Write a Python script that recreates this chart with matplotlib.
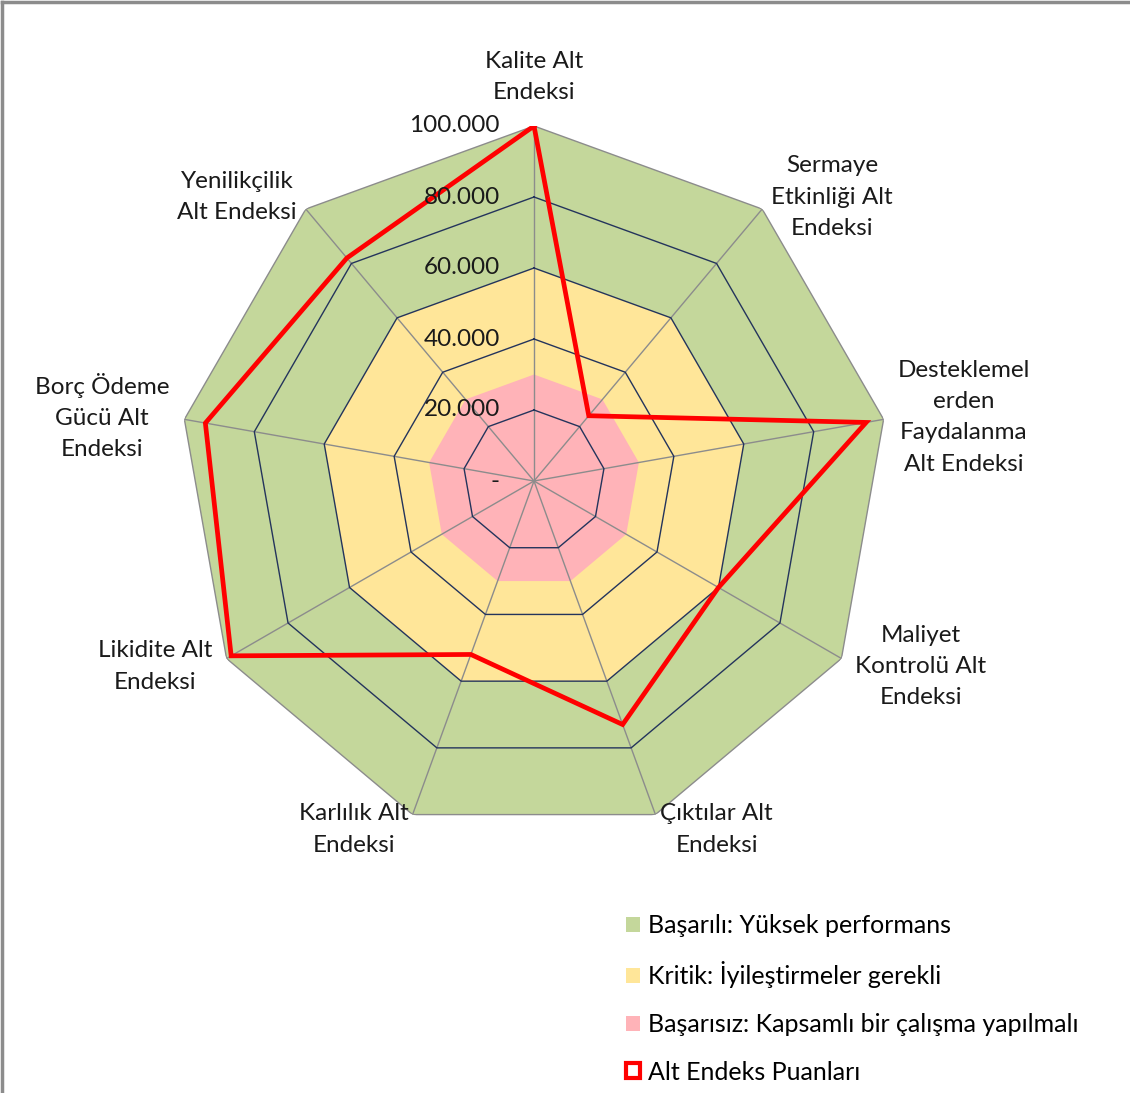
import numpy as np
import matplotlib.pyplot as plt
from matplotlib.patches import Patch
from matplotlib.lines import Line2D

plt.rcParams['font.family'] = ['Lato', 'DejaVu Sans']

categories = ["Kalite Alt\nEndeksi", "Sermaye\nEtkinliği Alt\nEndeksi",
              "Desteklemel\nerden\nFaydalanma\nAlt Endeksi",
              "Maliyet\nKontrolü Alt\nEndeksi", "Çıktılar Alt\nEndeksi",
              "Karlılık Alt\nEndeksi", "Likidite Alt\nEndeksi",
              "Borç Ödeme\nGücü Alt\nEndeksi", "Yenilikçilik\nAlt Endeksi"]
scores = [100, 24, 95, 60, 73, 52, 98.5, 94, 82]

# performance bands (upper limit of each zone)
band_names = ["Başarılı: Yüksek performans", "Kritik: İyileştirmeler gerekli",
              "Başarısız: Kapsamlı bir çalışma yapılmalı"]
band_limits = [100, 60, 30]
band_colors = ["#c4d79b", "#ffe699", "#ffb3b8"]
series_name = "Alt Endeks Puanları"

ticks = [0, 20, 40, 60, 80, 100]
tick_labels = ["-", "20.000", "40.000", "60.000", "80.000", "100.000"]

W, H = 1130, 1093
fig = plt.figure(figsize=(W / 100, H / 100), dpi=100)
cx, cy, R = 534, 481, 355
ax = fig.add_axes([(cx - R) / W, (H - cy - R) / H, 2 * R / W, 2 * R / H],
                  projection='polar')
ax.set_theta_zero_location('N')
ax.set_theta_direction(-1)
ax.set_ylim(0, 100)
ax.grid(False)
ax.set_xticks([])
ax.set_yticks([])
ax.spines['polar'].set_visible(False)
ax.patch.set_alpha(0)

n = len(categories)
theta = np.linspace(0, 2 * np.pi, n, endpoint=False)
closed = np.append(theta, theta[0])

for lim, col in zip(band_limits, band_colors):
    ax.fill(closed, [lim] * (n + 1), color=col, lw=0, zorder=1)

# spokes and outer edge
for t in theta:
    ax.plot([t, t], [0, 100], color='#8c8c8c', lw=1, zorder=2)
ax.plot(closed, [100] * (n + 1), color='#8c8c8c', lw=1, zorder=2)
for v in ticks[1:-1]:
    ax.plot(closed, [v] * (n + 1), color='#24345c', lw=1, zorder=3)

ax.plot(closed, scores + scores[:1], color='#ff0000', lw=3.4, zorder=5,
        solid_joinstyle='miter')

for v, lab in zip(ticks, tick_labels):
    ax.annotate(lab, (0, v), xytext=(-34, 0), textcoords='offset pixels',
                ha='right', va='center', fontsize=17.5, color='#1a1a1a', zorder=6)

# label anchors relative to the outer vertex
label_offsets = [(0, 49, 'center'), (9, 12, 'left'), (14, 2, 'left'),
                 (14, -8, 'left'), (5, -15, 'left'), (-4, -15, 'right'),
                 (-14, -8, 'right'), (-15, 3, 'right'), (-9, 12, 'right')]
for t, lab, (dx, dy, ha) in zip(theta, categories, label_offsets):
    ax.annotate(lab, (t, 100), xytext=(dx, dy), textcoords='offset pixels',
                ha=ha, va='center', multialignment='center', fontsize=17.5,
                linespacing=1.6, color='#1a1a1a', annotation_clip=False)

handles = [Patch(facecolor=c, edgecolor='none') for c in band_colors]
handles.append(Patch(facecolor='white', edgecolor='#ff0000', lw=3))
fig.legend(handles, band_names + [series_name], loc='upper left',
           bbox_to_anchor=(626 / W, 1 - 914 / H), frameon=False, fontsize=18,
           handlelength=0.56, handleheight=0.56, handletextpad=0.32,
           labelspacing=0.98, borderpad=0, borderaxespad=0)

# chart frame (top and left edges)
fig.add_artist(Line2D([0.002, 0.002], [0, 0.998], color='#8c8c8c', lw=2.5,
                      transform=fig.transFigure))
fig.add_artist(Line2D([0.002, 1], [0.998, 0.998], color='#8c8c8c', lw=2.5,
                      transform=fig.transFigure))

fig.savefig('out.png', dpi=100)
